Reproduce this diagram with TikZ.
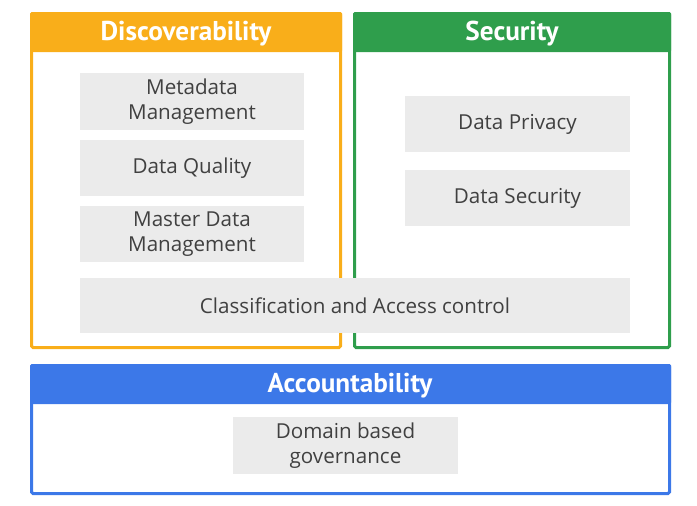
\documentclass[tikz,border=0pt]{standalone}
\usepackage{fontspec}
\setmainfont{Open Sans}
\newfontfamily\headfont{PT Sans}
\definecolor{gyellow}{HTML}{F9AE1A}
\definecolor{ggreen}{HTML}{2F9E4C}
\definecolor{gblue}{HTML}{3C78E8}
\definecolor{cellgray}{HTML}{EBEBEB}
\definecolor{txtgray}{HTML}{404040}
\tikzset{
  frame/.style={line width=3pt, rounded corners=1.5pt},
  cell/.style={fill=cellgray, draw=none, text=txtgray, align=center,
    font=\fontsize{20.6}{25}\selectfont, inner sep=0pt},
  headtext/.style={text=white, font=\headfont\bfseries\fontsize{27.2}{30}\selectfont, inner sep=0pt}
}
\begin{document}
\begin{tikzpicture}[x=1pt,y=-1pt]
\useasboundingbox (0,0) rectangle (697,506);
% Discoverability frame
\fill[gyellow, rounded corners=1.5pt] (30,12) rectangle (342,52);
\draw[frame, gyellow] (31.5,13.5) rectangle (340.5,347.5);
\node[headtext] (hdisc) at (186,33.5) {Discoverability};
% Security frame
\fill[ggreen, rounded corners=1.5pt] (353,12) rectangle (671,52);
\draw[frame, ggreen] (354.5,13.5) rectangle (669.5,347.5);
\node[headtext] (hsec) at (512,33.5) {Security};
% Accountability frame
\fill[gblue, rounded corners=1.5pt] (30,364) rectangle (671,404);
\draw[frame, gblue] (31.5,365.5) rectangle (669.5,493.5);
\node[headtext] (hacc) at (350,385.5) {Accountability};
% cells
\node[cell, minimum width=224pt, minimum height=57pt] (meta) at (192,101.5) {Metadata\\Management};
\node[cell, minimum width=224pt, minimum height=56pt] (qual) at (192,168) {Data Quality};
\node[cell, minimum width=224pt, minimum height=56pt] (mdm) at (192,234) {Master Data\\Management};
\node[cell, minimum width=225pt, minimum height=56pt] (priv) at (517.5,124) {Data Privacy};
\node[cell, minimum width=225pt, minimum height=56pt] (dsec) at (517.5,198) {Data Security};
\node[cell, minimum width=550pt, minimum height=55pt] (class) at (355,305.5) {Classification and Access control};
\node[cell, minimum width=225pt, minimum height=57pt] (dom) at (345.5,445.5) {Domain based\\governance};
\end{tikzpicture}
\end{document}
